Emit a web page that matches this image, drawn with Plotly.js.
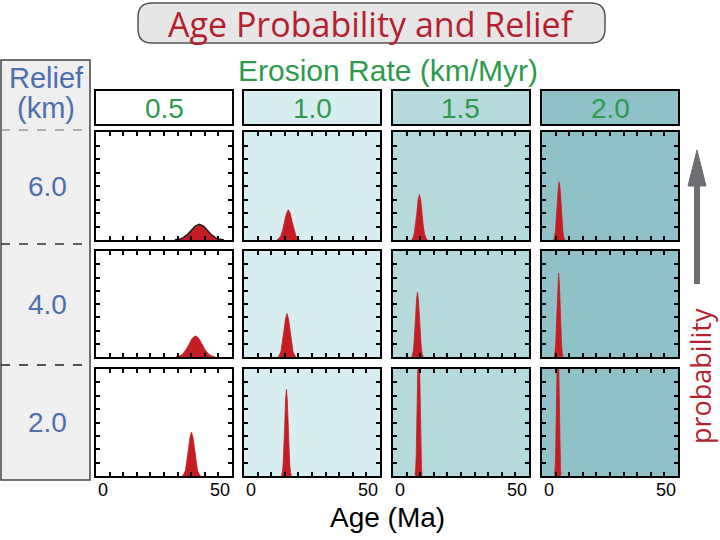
<!DOCTYPE html>
<html><head><meta charset="utf-8">
<script src="https://cdn.plot.ly/plotly-3.0.1.min.js"></script>
<style>html,body{margin:0;padding:0;background:#fff}#chart{width:720px;height:540px}</style>
</head><body><div id="chart"></div>
<script>
// ---------- data ----------
const erosionRates = ['0.5', '1.0', '1.5', '2.0'];   // km/Myr (columns)
const reliefs = ['6.0', '4.0', '2.0'];               // km (rows)
const ageTickLabels = ['0', '50'];
const ageRange = [0, 50];

// Relief 6.0 km
const ageR6E05 = [29, 30.5, 32, 33.5, 35, 36.5, 38, 39.5, 41, 42.5, 44, 45.5, 47];
const probR6E05 = [0.002, 0.006, 0.020, 0.047, 0.088, 0.128, 0.145, 0.128, 0.088, 0.047, 0.020, 0.006, 0.002];
const ageR6E10 = [12.1, 12.8, 13.5, 14.2, 14.9, 15.6, 16.3, 17.0, 17.7, 18.4, 19.1, 19.8, 20.5];
const probR6E10 = [0.003, 0.012, 0.038, 0.091, 0.170, 0.247, 0.280, 0.247, 0.170, 0.091, 0.038, 0.012, 0.003];
const ageR6E15 = [6.9, 7.3, 7.8, 8.3, 8.8, 9.2, 9.7, 10.2, 10.6, 11.1, 11.6, 12.1, 12.6];
const probR6E15 = [0.005, 0.018, 0.057, 0.136, 0.255, 0.371, 0.420, 0.371, 0.255, 0.136, 0.057, 0.018, 0.005];
const ageR6E20 = [4.2, 4.55, 4.9, 5.25, 5.6, 5.95, 6.3, 6.65, 7.0, 7.35, 7.7, 8.05, 8.4];
const probR6E20 = [0.006, 0.024, 0.073, 0.175, 0.328, 0.477, 0.540, 0.477, 0.328, 0.175, 0.073, 0.024, 0.006];
// Relief 4.0 km
const ageR4E05 = [29.4, 30.6, 31.8, 33.0, 34.2, 35.4, 36.6, 37.8, 39.0, 40.2, 41.4, 42.6, 43.8];
const probR4E05 = [0.002, 0.009, 0.027, 0.065, 0.121, 0.177, 0.200, 0.177, 0.121, 0.065, 0.027, 0.009, 0.002];
const ageR4E10 = [12.5, 13.05, 13.6, 14.15, 14.7, 15.25, 15.8, 16.35, 16.9, 17.45, 18.0, 18.55, 19.1];
const probR4E10 = [0.005, 0.018, 0.055, 0.133, 0.249, 0.362, 0.410, 0.362, 0.249, 0.133, 0.055, 0.018, 0.005];
const ageR4E15 = [6.9, 7.25, 7.6, 7.95, 8.3, 8.65, 9.0, 9.35, 9.7, 10.05, 10.4, 10.75, 11.1];
const probR4E15 = [0.007, 0.027, 0.083, 0.198, 0.370, 0.538, 0.610, 0.538, 0.370, 0.198, 0.083, 0.027, 0.007];
const ageR4E20 = [4.45, 4.73, 5.0, 5.28, 5.55, 5.83, 6.1, 6.38, 6.65, 6.93, 7.2, 7.48, 7.75];
const probR4E20 = [0.009, 0.035, 0.107, 0.257, 0.479, 0.697, 0.790, 0.697, 0.479, 0.257, 0.107, 0.035, 0.009];
// Relief 2.0 km
const ageR2E05 = [31.8, 32.35, 32.9, 33.45, 34.0, 34.55, 35.1, 35.65, 36.2, 36.75, 37.3, 37.85, 38.4];
const probR2E05 = [0.005, 0.018, 0.055, 0.133, 0.249, 0.362, 0.410, 0.362, 0.249, 0.133, 0.055, 0.018, 0.005];
const ageR2E10 = [13.8, 14.1, 14.4, 14.7, 15.0, 15.3, 15.6, 15.9, 16.2, 16.5, 16.8, 17.1, 17.4];
const probR2E10 = [0.009, 0.036, 0.110, 0.263, 0.491, 0.715, 0.810, 0.715, 0.491, 0.263, 0.110, 0.036, 0.009];
const ageR2E15 = [8.1, 8.33, 8.54, 8.76, 8.97, 9.19, 9.4, 9.62, 9.83, 10.05, 10.26, 10.48, 10.7];
const probR2E15 = [0.016, 0.061, 0.189, 0.455, 0.849, 1.236, 1.400, 1.236, 0.849, 0.455, 0.189, 0.061, 0.016];
const ageR2E20 = [4.6, 4.8, 5.0, 5.2, 5.4, 5.6, 5.8, 6.0, 6.2, 6.4, 6.6, 6.8, 7.0];
const probR2E20 = [0.016, 0.061, 0.189, 0.455, 0.849, 1.236, 1.400, 1.236, 0.849, 0.455, 0.189, 0.061, 0.016];

const ages = [
  [ageR6E05, ageR6E10, ageR6E15, ageR6E20],
  [ageR4E05, ageR4E10, ageR4E15, ageR4E20],
  [ageR2E05, ageR2E10, ageR2E15, ageR2E20]
];
const probs = [
  [probR6E05, probR6E10, probR6E15, probR6E20],
  [probR4E05, probR4E10, probR4E15, probR4E20],
  [probR2E05, probR2E10, probR2E15, probR2E20]
];

// ---------- layout geometry (pixels) ----------
const W = 720, H = 540;
const colX = [[96, 232], [244, 380], [393, 529], [542, 678]];
const rowY = [[132, 240], [251, 357], [369, 476]];
const colBg = ['#ffffff', '#d8edef', '#b6d9dc', '#90c1c8'];
const red = '#c41e24';
const green = '#2f9a4e';
const blue = '#4d6fae';
const titleRed = '#b51f2e';

const px = x => x / W;
const py = y => 1 - y / H;
const P = (x, y) => px(x).toFixed(5) + ',' + py(y).toFixed(5);

const data = [];
const layout = {
  width: W, height: H,
  margin: {l: 0, r: 0, t: 0, b: 0},
  paper_bgcolor: '#ffffff',
  plot_bgcolor: 'rgba(0,0,0,0)',
  showlegend: false,
  shapes: [],
  annotations: []
};

for (let r = 0; r < 3; r++) {
  for (let c = 0; c < 4; c++) {
    const k = r * 4 + c + 1;
    const xid = k === 1 ? 'x' : 'x' + k;
    const yid = k === 1 ? 'y' : 'y' + k;
    data.push({
      type: 'scatter', mode: 'lines',
      x: ages[r][c], y: probs[r][c],
      fill: 'tozeroy', fillcolor: red,
      line: {color: (r === 0 && c === 0) ? '#1a1a1a' : red, width: (r === 0 && c === 0) ? 1.5 : 0.8},
      xaxis: xid, yaxis: yid, hoverinfo: 'skip'
    });
    const common = {
      ticks: 'inside', ticklen: 4, tickwidth: 2, tickcolor: '#000',
      showline: true, linecolor: '#000', linewidth: 2, mirror: 'ticks',
      showticklabels: false, showgrid: false, zeroline: false, fixedrange: true
    };
    layout['xaxis' + (k === 1 ? '' : k)] = Object.assign({}, common, {
      domain: [px(colX[c][0]), px(colX[c][1])], range: ageRange, tick0: 0, dtick: 5, anchor: yid
    });
    layout['yaxis' + (k === 1 ? '' : k)] = Object.assign({}, common, {
      domain: [py(rowY[r][1]), py(rowY[r][0])], range: [0, 1], tick0: 0, dtick: 0.125, anchor: xid
    });
    if (c > 0) {
      layout.shapes.push({
        type: 'rect', xref: xid + ' domain', yref: yid + ' domain',
        x0: 0, x1: 1, y0: 0, y1: 1, fillcolor: colBg[c], line: {width: 0}, layer: 'below'
      });
    }
    if (r === 2) {
      layout.annotations.push({
        xref: xid, yref: 'paper', x: ageRange[0], y: py(490), xanchor: 'left', yanchor: 'middle',
        text: ageTickLabels[0], showarrow: false, font: {family: 'Liberation Sans', size: 18, color: '#000'}
      });
      layout.annotations.push({
        xref: xid, yref: 'paper', x: ageRange[1], y: py(490), xanchor: 'right', yanchor: 'middle',
        text: ageTickLabels[1], showarrow: false, font: {family: 'Liberation Sans', size: 18, color: '#000'}
      });
    }
  }
}

// column header boxes
for (let c = 0; c < 4; c++) {
  layout.shapes.push({
    type: 'rect', xref: 'paper', yref: 'paper',
    x0: px(colX[c][0] - 1), x1: px(colX[c][1] + 1), y0: py(125), y1: py(90),
    fillcolor: colBg[c], line: {color: '#000', width: 2}
  });
  layout.annotations.push({
    xref: 'paper', yref: 'paper', x: px((colX[c][0] + colX[c][1]) / 2), y: py(109),
    xanchor: 'center', yanchor: 'middle', text: erosionRates[c], showarrow: false,
    font: {family: 'Liberation Sans', size: 28, color: green}
  });
}

// left relief column
layout.shapes.push({
  type: 'rect', xref: 'paper', yref: 'paper',
  x0: px(1), x1: px(90), y0: py(480), y1: py(60),
  fillcolor: '#efefef', line: {color: '#444', width: 1.5}, layer: 'below'
});
[[130, '#999999'], [244, '#333333'], [365, '#222222']].forEach(([y, col]) => {
  layout.shapes.push({
    type: 'line', xref: 'paper', yref: 'paper', x0: px(1), x1: px(90), y0: py(y), y1: py(y),
    line: {color: col, width: 1.5, dash: 'dash'}
  });
});
layout.annotations.push({
  xref: 'paper', yref: 'paper', x: px(46), y: py(78), text: 'Relief', showarrow: false,
  xanchor: 'center', yanchor: 'middle', font: {family: 'Liberation Sans', size: 29, color: blue}
});
layout.annotations.push({
  xref: 'paper', yref: 'paper', x: px(46), y: py(108), text: '(km)', showarrow: false,
  xanchor: 'center', yanchor: 'middle', font: {family: 'Liberation Sans', size: 29, color: blue}
});
for (let r = 0; r < 3; r++) {
  layout.annotations.push({
    xref: 'paper', yref: 'paper', x: px(47), y: py((rowY[r][0] + rowY[r][1]) / 2),
    text: reliefs[r], showarrow: false, xanchor: 'center', yanchor: 'middle',
    font: {family: 'Liberation Sans', size: 28, color: blue}
  });
}

// title rounded box
(function () {
  const L = 138, R = 605, T = 3, B = 43, rr = 14;
  const path = `M${P(L + rr, T)} L${P(R - rr, T)} Q${P(R, T)} ${P(R, T + rr)} L${P(R, B - rr)} Q${P(R, B)} ${P(R - rr, B)} L${P(L + rr, B)} Q${P(L, B)} ${P(L, B - rr)} L${P(L, T + rr)} Q${P(L, T)} ${P(L + rr, T)} Z`;
  layout.shapes.push({type: 'path', xref: 'paper', yref: 'paper', path: path,
    fillcolor: '#e6e6e6', line: {color: '#555', width: 1.5}});
})();
layout.annotations.push({
  xref: 'paper', yref: 'paper', x: px(371), y: py(24), text: 'Age Probability and Relief', showarrow: false,
  xanchor: 'center', yanchor: 'middle', borderpad: 0,
  font: {family: 'Open Sans', size: 34, color: titleRed}
});
layout.annotations.push({
  xref: 'paper', yref: 'paper', x: px(388), y: py(70), text: 'Erosion Rate (km/Myr)', showarrow: false,
  xanchor: 'center', yanchor: 'middle', font: {family: 'Liberation Sans', size: 30, color: green}
});
layout.annotations.push({
  xref: 'paper', yref: 'paper', x: px(387), y: py(517), text: 'Age (Ma)', showarrow: false,
  xanchor: 'center', yanchor: 'middle', font: {family: 'Liberation Sans', size: 28, color: '#000'}
});

// probability arrow
layout.shapes.push({
  type: 'line', xref: 'paper', yref: 'paper', x0: px(697), x1: px(697), y0: py(284), y1: py(180),
  line: {color: '#6d6e71', width: 6}
});
layout.shapes.push({
  type: 'path', xref: 'paper', yref: 'paper',
  path: `M${P(688, 186)} L${P(706, 186)} L${P(697, 150)} Z`,
  fillcolor: '#6d6e71', line: {color: '#6d6e71', width: 1}
});
layout.annotations.push({
  xref: 'paper', yref: 'paper', x: px(700), y: py(376), text: 'probability', showarrow: false,
  textangle: -90, xanchor: 'center', yanchor: 'middle',
  font: {family: 'Open Sans', size: 27, color: titleRed}
});

Plotly.newPlot('chart', data, layout, {staticPlot: true, displayModeBar: false});
</script>
</body></html>
